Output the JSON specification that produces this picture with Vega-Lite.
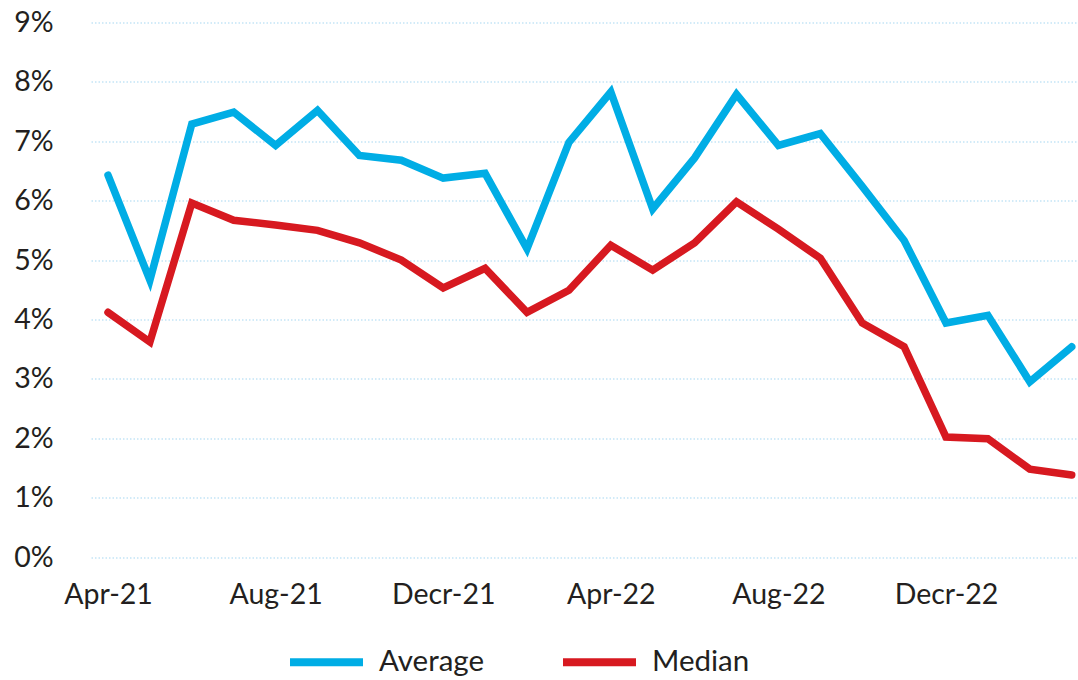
{
  "$schema": "https://vega.github.io/schema/vega-lite/v6.json",
  "width": 987,
  "height": 534.5,
  "autosize": {"type": "none"},
  "padding": {"left": 91, "top": 22.5, "right": 0, "bottom": 123},
  "background": "white",
  "config": {
    "view": {"stroke": null},
    "font": "Lato",
    "axis": {"labelFont": "Lato", "labelColor": "#231f20", "labelFontSize": 28.5, "domain": false, "ticks": false}
  },
  "data": {
    "values": [
      {"month": "Apr-21", "series": "Average", "value": 6.43},
      {"month": "May-21", "series": "Average", "value": 4.66},
      {"month": "Jun-21", "series": "Average", "value": 7.29},
      {"month": "Jul-21", "series": "Average", "value": 7.49},
      {"month": "Aug-21", "series": "Average", "value": 6.93},
      {"month": "Sep-21", "series": "Average", "value": 7.52},
      {"month": "Oct-21", "series": "Average", "value": 6.76},
      {"month": "Nov-21", "series": "Average", "value": 6.68},
      {"month": "Decr-21", "series": "Average", "value": 6.38},
      {"month": "Jan-22", "series": "Average", "value": 6.46},
      {"month": "Feb-22", "series": "Average", "value": 5.19},
      {"month": "Mar-22", "series": "Average", "value": 6.98},
      {"month": "Apr-22", "series": "Average", "value": 7.83},
      {"month": "May-22", "series": "Average", "value": 5.86},
      {"month": "Jun-22", "series": "Average", "value": 6.72},
      {"month": "Jul-22", "series": "Average", "value": 7.79},
      {"month": "Aug-22", "series": "Average", "value": 6.93},
      {"month": "Sep-22", "series": "Average", "value": 7.13},
      {"month": "Oct-22", "series": "Average", "value": 6.24},
      {"month": "Nov-22", "series": "Average", "value": 5.33},
      {"month": "Decr-22", "series": "Average", "value": 3.94},
      {"month": "Jan-23", "series": "Average", "value": 4.07},
      {"month": "Feb-23", "series": "Average", "value": 2.95},
      {"month": "Mar-23", "series": "Average", "value": 3.54},
      {"month": "Apr-21", "series": "Median", "value": 4.12},
      {"month": "May-21", "series": "Median", "value": 3.62},
      {"month": "Jun-21", "series": "Median", "value": 5.96},
      {"month": "Jul-21", "series": "Median", "value": 5.67},
      {"month": "Aug-21", "series": "Median", "value": 5.59},
      {"month": "Sep-21", "series": "Median", "value": 5.5},
      {"month": "Oct-21", "series": "Median", "value": 5.29},
      {"month": "Nov-21", "series": "Median", "value": 5.0},
      {"month": "Decr-21", "series": "Median", "value": 4.53},
      {"month": "Jan-22", "series": "Median", "value": 4.86},
      {"month": "Feb-22", "series": "Median", "value": 4.12},
      {"month": "Mar-22", "series": "Median", "value": 4.49},
      {"month": "Apr-22", "series": "Median", "value": 5.25},
      {"month": "May-22", "series": "Median", "value": 4.83},
      {"month": "Jun-22", "series": "Median", "value": 5.29},
      {"month": "Jul-22", "series": "Median", "value": 5.98},
      {"month": "Aug-22", "series": "Median", "value": 5.52},
      {"month": "Sep-22", "series": "Median", "value": 5.03},
      {"month": "Oct-22", "series": "Median", "value": 3.94},
      {"month": "Nov-22", "series": "Median", "value": 3.54},
      {"month": "Decr-22", "series": "Median", "value": 2.02},
      {"month": "Jan-23", "series": "Median", "value": 1.99},
      {"month": "Feb-23", "series": "Median", "value": 1.48},
      {"month": "Mar-23", "series": "Median", "value": 1.38}
    ]
  },
  "mark": {"type": "line", "strokeWidth": 7.5, "strokeJoin": "miter", "strokeCap": "round"},
  "encoding": {
    "x": {
      "field": "month",
      "type": "ordinal",
      "sort": null,
      "scale": {"type": "point", "padding": 0.278, "align": 0.73},
      "axis": {
        "title": null,
        "labelAngle": 0,
        "labelPadding": 23,
        "grid": false,
        "values": ["Apr-21", "Aug-21", "Decr-21", "Apr-22", "Aug-22", "Decr-22"]
      }
    },
    "y": {
      "field": "value",
      "type": "quantitative",
      "scale": {"domain": [0, 9], "nice": false, "zero": true},
      "axis": {
        "title": null,
        "values": [0, 1, 2, 3, 4, 5, 6, 7, 8, 9],
        "labelExpr": "datum.value + '%'",
        "labelPadding": 38,
        "grid": true,
        "gridColor": "#a6d8f2",
        "gridDash": [1.5, 2],
        "gridWidth": 1.2
      }
    },
    "color": {
      "field": "series",
      "type": "nominal",
      "scale": {"domain": ["Average", "Median"], "range": ["#00ade5", "#d71920"]},
      "legend": {
        "title": null,
        "orient": "none",
        "direction": "horizontal",
        "legendX": 195,
        "legendY": 599,
        "symbolType": "stroke",
        "symbolSize": 5329,
        "symbolStrokeWidth": 8,
        "labelFontSize": 29.5,
        "labelFont": "Lato",
        "labelColor": "#231f20",
        "labelOffset": 12,
        "columnPadding": 62,
        "padding": 0
      }
    }
  }
}
